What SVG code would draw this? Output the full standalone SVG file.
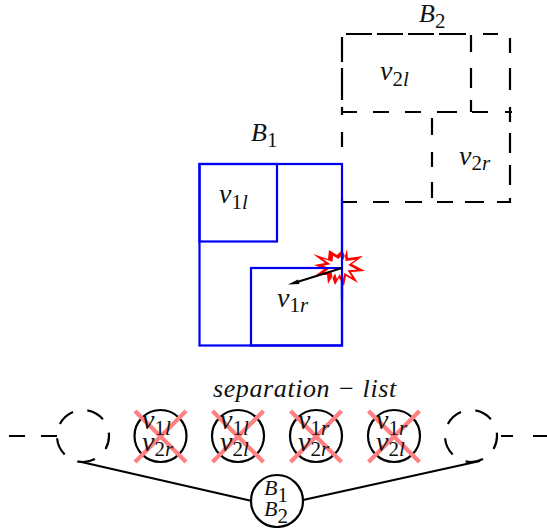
<svg xmlns="http://www.w3.org/2000/svg" width="547" height="528" viewBox="0 0 547 528">
<style>
text{font-family:"Liberation Serif","Times New Roman",serif;font-size:26px;font-style:italic;fill:#111}
.v{font-size:28px}
.bb{font-size:22px}
.s{font-size:21px;font-style:normal}
.i{font-size:21px;font-style:italic}
.blue{fill:none;stroke:#0000f0;stroke-width:2.2}
.dash{fill:none;stroke:#000;stroke-width:2.2}
.node{fill:#fff;stroke:#000;stroke-width:2.2}
.ndash{fill:#fff;stroke:#000;stroke-width:2.2;stroke-dasharray:18 14.67;stroke-dashoffset:4.5}
.x{stroke:#ff8080;stroke-width:4.2;fill:none}
.line{stroke:#000;stroke-width:2.2;fill:none}
</style>
<defs>
<polygon id="burst" points="313,254 328,259 329,250 337,255 342,250 345,256 347,249 348,258 363,256 352,264 365,271 351,272 358,283 346,276 344,286 339,278 335,285 332,277 328,284 327,275 316,275 324,269 314,265 325,263"/>
</defs>
<g id="connectors">
<path class="line" d="M77 461L252 501"/>
<path class="line" d="M303 500L480 461"/>
<path class="line" d="M9 436H25M41 436H57"/>
<path class="line" d="M501 436H513M533 436H547"/>
</g>
<g id="B1">
<rect class="blue" x="199.500" y="164" width="142.500" height="181.500"/>
<text x="251" y="141">B<tspan class="s" dy="6">1</tspan></text>
</g>
<g id="v1l">
<rect class="blue" x="199.500" y="164" width="77.500" height="77.500"/>
<text class="v" x="219" y="203">v<tspan class="s" dy="6">1</tspan><tspan class="i">l</tspan></text>
</g>
<g id="v1r">
<rect class="blue" x="251" y="268" width="91" height="77.500"/>
<text class="v" x="277" y="307">v<tspan class="s" dy="5">1</tspan><tspan class="i">r</tspan></text>
</g>
<g id="B2">
<path class="dash" d="M346 34H372M377 34H403M408 34H434M439 34H466M483 34H498"/>
<path class="dash" d="M510 38V53M510 68V90M510 107V122M510 133V153M510 165V185M510 198V203"/>
<path class="dash" d="M342 37V62M342 68V100M342 107V115M342 132V147"/>
<path class="dash" d="M343 202H357M373 202H389M405 202H422M437 202H453M465 202H484M497 202H510"/>
<text x="419" y="22">B<tspan class="s" dy="6">2</tspan></text>
</g>
<g id="v2l">
<path class="dash" d="M471 35V52M471 68V88M471 100V112"/>
<path class="dash" d="M342 112H357M373 112H389M405 112H421"/>
<text class="v" x="380" y="80">v<tspan class="s" dy="6">2</tspan><tspan class="i">l</tspan></text>
</g>
<g id="v2r">
<path class="dash" d="M432 118V135M432 152V167M432 182V198"/>
<path class="dash" d="M437 112H457M472 112H488M505 112H512"/>
<text class="v" x="459" y="165">v<tspan class="s" dy="5">2</tspan><tspan class="i">r</tspan></text>
</g>
<g id="collision">
<use href="#burst" fill="#f00"/>
<use href="#burst" fill="#fff" transform="translate(341 267) scale(.66) translate(-341 -267)"/>
<path class="blue" d="M342 199V300M300 268H342"/>
<path class="line" d="M342 268L294 283"/>
<path d="M288 284.500L298 279.500L299.500 284Z" fill="#000"/>
</g>
<g id="separation-list">
<text x="213" y="397" letter-spacing="0.6" xml:space="preserve">separation − list</text>
</g>
<g id="n0"><circle class="ndash" cx="83" cy="436" r="26"/></g>
<g id="n1">
<circle class="node" cx="160.500" cy="436" r="26"/>
<path class="x" d="M135 411L186 462M186 411L135 462"/>
<text class="v" x="142" y="429">v<tspan class="s" dy="6">1</tspan><tspan class="i">l</tspan></text>
<text class="v" x="142" y="451">v<tspan class="s" dy="5">2</tspan><tspan class="i">r</tspan></text>
</g>
<g id="n2">
<circle class="node" cx="238" cy="436" r="26"/>
<path class="x" d="M212.500 411L263.500 462M263.500 411L212.500 462"/>
<text class="v" x="220" y="429">v<tspan class="s" dy="6">1</tspan><tspan class="i">l</tspan></text>
<text class="v" x="220" y="451">v<tspan class="s" dy="5">2</tspan><tspan class="i">l</tspan></text>
</g>
<g id="n3">
<circle class="node" cx="316" cy="436" r="26"/>
<path class="x" d="M290.500 411L341.500 462M341.500 411L290.500 462"/>
<text class="v" x="298" y="429">v<tspan class="s" dy="6">1</tspan><tspan class="i">r</tspan></text>
<text class="v" x="298" y="451">v<tspan class="s" dy="5">2</tspan><tspan class="i">r</tspan></text>
</g>
<g id="n4">
<circle class="node" cx="394" cy="436" r="26"/>
<path class="x" d="M368.500 411L419.500 462M419.500 411L368.500 462"/>
<text class="v" x="376" y="429">v<tspan class="s" dy="6">1</tspan><tspan class="i">r</tspan></text>
<text class="v" x="376" y="451">v<tspan class="s" dy="5">2</tspan><tspan class="i">l</tspan></text>
</g>
<g id="n5"><circle class="ndash" cx="471" cy="436" r="26"/></g>
<g id="B1B2">
<circle class="node" cx="277" cy="501" r="26"/>
<text class="bb" x="264" y="495">B<tspan class="s" dy="7">1</tspan></text>
<text class="bb" x="264" y="516">B<tspan class="s" dy="7">2</tspan></text>
</g>
</svg>
